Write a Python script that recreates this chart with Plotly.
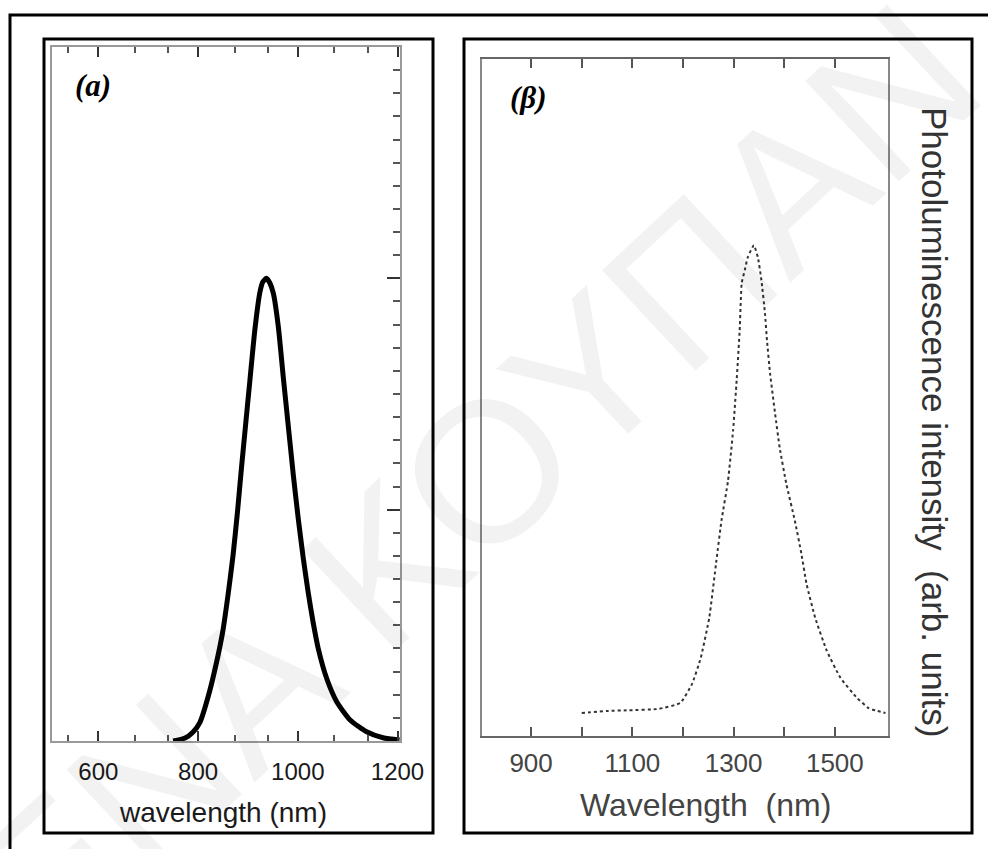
import plotly.graph_objects as go

W, H = 988, 849

# ---- Panel (a) data: wavelength (nm) vs intensity (arb., tick units) ----
a_wavelength = [750, 774, 790, 804, 820, 837, 850, 860, 870, 879, 887, 895, 904, 914,
                924, 930, 937, 944, 951, 961, 971, 981, 991, 1001, 1011, 1021, 1031,
                1041, 1058, 1078, 1105, 1138, 1171, 1204]
a_intensity = [0.0, 0.13, 0.39, 0.82, 1.9, 3.4, 4.8, 6.3, 8.0, 9.9, 11.8, 13.6, 15.6, 17.8,
               19.4, 19.85, 20.0, 19.8, 19.35, 17.9, 15.7, 13.6, 11.5, 9.6, 7.9, 6.4, 5.1,
               4.0, 2.7, 1.7, 0.91, 0.40, 0.14, 0.04]

# ---- Panel (b) data ----
b_wavelength = [1000, 1050, 1092, 1152, 1195, 1218, 1235, 1252, 1266, 1276, 1289, 1299, 1306,
                1312, 1316, 1322, 1328, 1340, 1348, 1355, 1362, 1366, 1372, 1382, 1391, 1404,
                1421, 1434, 1444, 1461, 1484, 1511, 1544, 1567, 1584, 1600]
b_intensity = [0.034, 0.037, 0.038, 0.040, 0.049, 0.077, 0.115, 0.175, 0.259, 0.318, 0.377,
               0.451, 0.525, 0.599, 0.669, 0.688, 0.707, 0.725, 0.707, 0.673, 0.624, 0.584,
               0.536, 0.476, 0.426, 0.373, 0.318, 0.269, 0.225, 0.175, 0.126, 0.086, 0.056,
               0.041, 0.037, 0.034]

a_ticks = [600, 800, 1000, 1200]
a_minor_ticks = [540, 673.3, 740, 873.3, 940, 1073.3, 1140]
b_ticks = [900, 1100, 1300, 1500]
b_minor_ticks = [1000, 1200, 1400]

a_xlabel = "wavelength (nm)"
b_xlabel = "Wavelength  (nm)"
b_ylabel = "Photoluminescence intensity  (arb. units)"
watermark = "ΕΝΑ ΚΟΥΠΑΝ"


def px(x):
    return x / W


def py(y):
    return 1 - y / H


FONT = "Liberation Sans, Arial, sans-serif"

fig = go.Figure()
fig.add_trace(go.Scatter(x=a_wavelength, y=a_intensity, mode="lines",
                         line=dict(color="black", width=5, shape="spline", smoothing=0.6),
                         xaxis="x", yaxis="y", showlegend=False, hoverinfo="skip"))
fig.add_trace(go.Scatter(x=b_wavelength, y=b_intensity, mode="lines",
                         line=dict(color="#333333", width=2, dash="dot", shape="spline", smoothing=0.4),
                         xaxis="x2", yaxis="y2", showlegend=False, hoverinfo="skip"))

fig.update_layout(
    template="none",
    width=W, height=H, autosize=False, margin=dict(l=0, r=0, t=0, b=0, pad=0),
    paper_bgcolor="white", plot_bgcolor="white",
    xaxis=dict(domain=[px(52), px(400)], range=[507, 1205], anchor="y", automargin=False,
               tickmode="array", tickvals=a_ticks, ticktext=[str(t) for t in a_ticks],
               ticks="inside", ticklen=10, tickwidth=1.5, tickcolor="#333",
               minor=dict(tickmode="array", tickvals=a_minor_ticks, ticks="inside",
                          ticklen=6, tickwidth=1.5, tickcolor="#555", showgrid=False),
               showline=True, linecolor="#999", linewidth=2, mirror="ticks",
               showgrid=False, zeroline=False,
               tickfont=dict(family=FONT, size=24, color="#1a1a1a"), ticklabelstandoff=8),
    yaxis=dict(domain=[py(741), py(47)], range=[0, 30], anchor="x", side="right", automargin=False,
               tickmode="linear", tick0=0, dtick=10, ticks="inside", ticklen=13,
               tickwidth=1.5, tickcolor="#333",
               minor=dict(dtick=1, ticks="inside", ticklen=7, tickwidth=1.5, tickcolor="#555",
                          showgrid=False),
               showticklabels=False, showline=True, linecolor="#999", linewidth=2,
               mirror=True, showgrid=False, zeroline=False),
    xaxis2=dict(domain=[px(482), px(888)], range=[803, 1605], anchor="y2", automargin=False,
                tickmode="array", tickvals=b_ticks, ticktext=[str(t) for t in b_ticks],
                ticks="inside", ticklen=9, tickwidth=1.5, tickcolor="#555",
                minor=dict(tickmode="array", tickvals=b_minor_ticks, ticks="inside",
                           ticklen=9, tickwidth=1.5, tickcolor="#555", showgrid=False),
                showline=True, linecolor="#666", linewidth=2, mirror="ticks",
                showgrid=False, zeroline=False,
                tickfont=dict(family=FONT, size=26, color="#444"), ticklabelstandoff=3),
    yaxis2=dict(domain=[py(736), py(59)], range=[0, 1], anchor="x2", automargin=False,
                showticklabels=False, ticks="", showline=True, linecolor="#888",
                linewidth=2, mirror=True, showgrid=False, zeroline=False),
)

shapes = [
    dict(type="rect", xref="paper", yref="paper", x0=px(10), x1=px(1000), y0=py(15), y1=py(870),
         line=dict(color="black", width=3)),
    dict(type="rect", xref="paper", yref="paper", x0=px(44), x1=px(433), y0=py(39), y1=py(833),
         line=dict(color="black", width=3)),
    dict(type="rect", xref="paper", yref="paper", x0=px(464), x1=px(972), y0=py(39), y1=py(833),
         line=dict(color="black", width=3)),
]
fig.update_layout(shapes=shapes)

ann = [
    dict(text=watermark, x=px(474), y=py(482), xref="paper", yref="paper", showarrow=False,
         textangle=-43, font=dict(family=FONT, size=200, color="rgba(0,0,0,0.05)"),
         xanchor="center", yanchor="middle"),
    dict(text="<b><i>(a)</i></b>", x=px(93), y=py(85), xref="paper", yref="paper", showarrow=False,
         font=dict(family="Liberation Serif, Times New Roman, serif", size=31, color="black"),
         xanchor="center", yanchor="middle"),
    dict(text="<b><i>(β)</i></b>", x=px(528), y=py(97), xref="paper", yref="paper", showarrow=False,
         font=dict(family="Liberation Serif, Times New Roman, serif", size=31, color="black"),
         xanchor="center", yanchor="middle"),
    dict(text=a_xlabel, x=px(223), y=py(812), xref="paper", yref="paper", showarrow=False,
         font=dict(family=FONT, size=28, color="#1a1a1a"), xanchor="center", yanchor="middle"),
    dict(text=b_xlabel, x=px(705), y=py(805), xref="paper", yref="paper", showarrow=False,
         font=dict(family=FONT, size=32, color="#444"), xanchor="center", yanchor="middle"),
    dict(text=b_ylabel, x=px(935), y=py(422), xref="paper", yref="paper", showarrow=False,
         textangle=90, font=dict(family=FONT, size=35, color="#333"),
         xanchor="center", yanchor="middle"),
]
fig.update_layout(annotations=ann)

fig.write_html("out.html", config={"responsive": False})
